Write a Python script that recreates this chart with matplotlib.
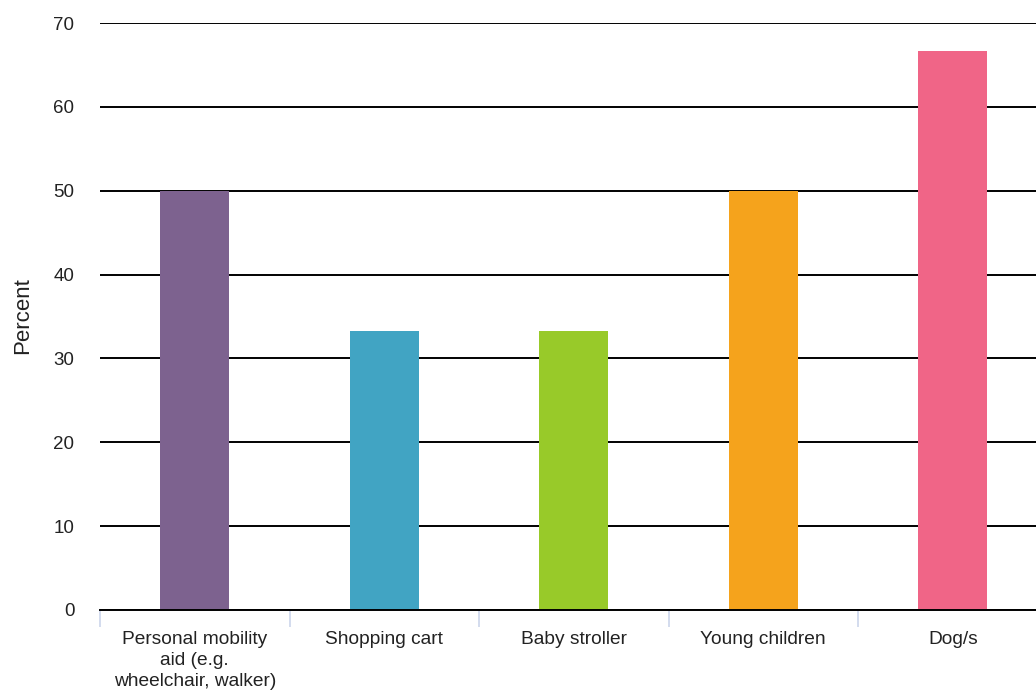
import matplotlib.pyplot as plt

categories = ["Personal mobility\naid (e.g.\nwheelchair, walker)", "Shopping cart",
              "Baby stroller", "Young children", "Dog/s"]
values = [50.0, 33.33, 33.33, 50.0, 66.67]
colors = ["#7d628f", "#41a4c3", "#98ca29", "#f5a31c", "#f06587"]
yticks = [0, 10, 20, 30, 40, 50, 60, 70]

plt.rcParams['font.family'] = ['Liberation Sans', 'DejaVu Sans']

W, H = 1036, 698
fig = plt.figure(figsize=(W / 100, H / 100), dpi=100)
# plot area runs slightly past the right edge, as in the source
left, right, top, bottom = 100, 1047.5, 23, 610
ax = fig.add_axes([left / W, 1 - bottom / H, (right - left) / W, (bottom - top) / H])

x = list(range(len(categories)))
ax.bar(x, values, width=0.365, color=colors, zorder=3)

ax.set_xlim(-0.5, len(categories) - 0.5)
ax.set_ylim(0, 70)
ax.set_yticks(yticks)
ax.yaxis.grid(True, color="black", linewidth=1.4, zorder=1)
ax.set_axisbelow(True)

for s in ["top", "right", "left"]:
    ax.spines[s].set_visible(False)
ax.spines["bottom"].set_color("black")
ax.spines["bottom"].set_linewidth(1.4)
ax.spines["bottom"].set_zorder(4)

ax.tick_params(axis="y", length=0, pad=18.5, labelsize=13.5, labelcolor="#222222")
ax.set_xticks(x)
ax.set_xticklabels(categories, fontsize=13.8, color="#222222", linespacing=1.33)
ax.tick_params(axis="x", length=0, pad=15)
# category boundary ticks
ax.set_xticks([i - 0.5 for i in range(len(categories) + 1)], minor=True)
ax.tick_params(axis="x", which="minor", length=12, width=1.2, color="#ccd6eb")

fig.text(23 / W, 1 - 316 / H, "Percent", rotation=90, ha="center", va="center",
         fontsize=16, color="#222222")

fig.savefig("out.png", dpi=100)
